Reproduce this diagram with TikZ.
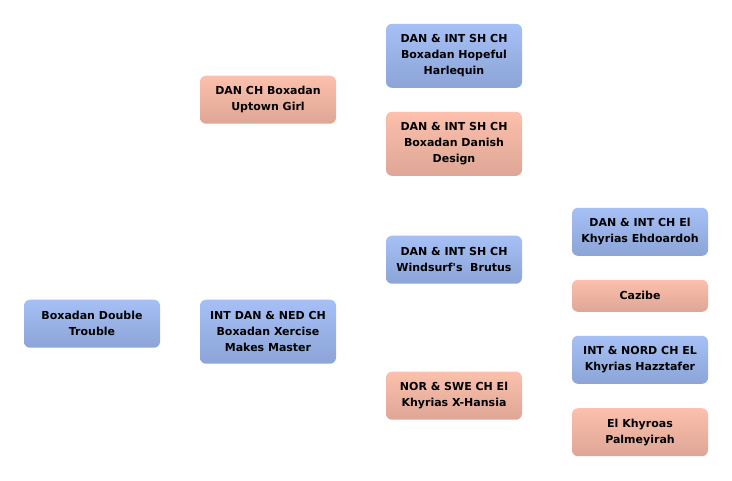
\documentclass[tikz,border=0pt]{standalone}
\usepackage{fontspec}
\usepackage{xcolor}
\usepackage{tikz}
\usetikzlibrary{positioning}
\newfontfamily\pedigreefont{DejaVu Sans}
\definecolor{maletop}{RGB}{166, 192, 246}
\definecolor{malebottom}{RGB}{140, 164, 214}
\definecolor{femaletop}{RGB}{252, 192, 172}
\definecolor{femalebottom}{RGB}{222, 166, 150}

\begin{document}
\begin{tikzpicture}[
    x=1pt, y=-1pt,
    dog/.style={rounded corners=6pt, minimum width=136pt, inner sep=0pt, align=center,
        font=\pedigreefont\bfseries\fontsize{11}{16}\selectfont},
    male/.style={dog, top color=maletop, bottom color=malebottom},
    female/.style={dog, top color=femaletop, bottom color=femalebottom},
]
    \useasboundingbox (0,0) rectangle (732,480);

    % Generation 1
    \node[male, minimum height=48pt] (dog) at (92, 323.7) {Boxadan Double\\Trouble};

    % Generation 2
    \node[male, minimum height=64pt] (sire) at (268, 331.7) {INT DAN \& NED CH\\Boxadan Xercise\\Makes Master};
    \node[female, minimum height=48pt] (dam) at (268, 99.7) {DAN CH Boxadan\\Uptown Girl};

    % Generation 3
    \node[male, minimum height=64pt] (damsire) at (454, 55.8) {DAN \& INT SH CH\\Boxadan Hopeful\\Harlequin};
    \node[female, minimum height=64pt] (damdam) at (454, 143.8) {DAN \& INT SH CH\\Boxadan Danish\\Design};
    \node[male, minimum height=48pt] (siresire) at (454, 259.7) {DAN \& INT SH CH\\Windsurf's\ \ Brutus};
    \node[female, minimum height=48pt] (siredam) at (454, 395.7) {NOR \& SWE CH El\\Khyrias X-Hansia};

    % Generation 4
    \node[male, minimum height=48pt] (ssire) at (640, 231.8) {DAN \& INT CH El\\Khyrias Ehdoardoh};
    \node[female, minimum height=32pt] (sdam) at (640, 295.8) {Cazibe};
    \node[male, minimum height=48pt] (dsire) at (640, 359.8) {INT \& NORD CH EL\\Khyrias Hazztafer};
    \node[female, minimum height=48pt] (ddam) at (640, 432.2) {El Khyroas\\Palmeyirah};

\end{tikzpicture}
\end{document}
